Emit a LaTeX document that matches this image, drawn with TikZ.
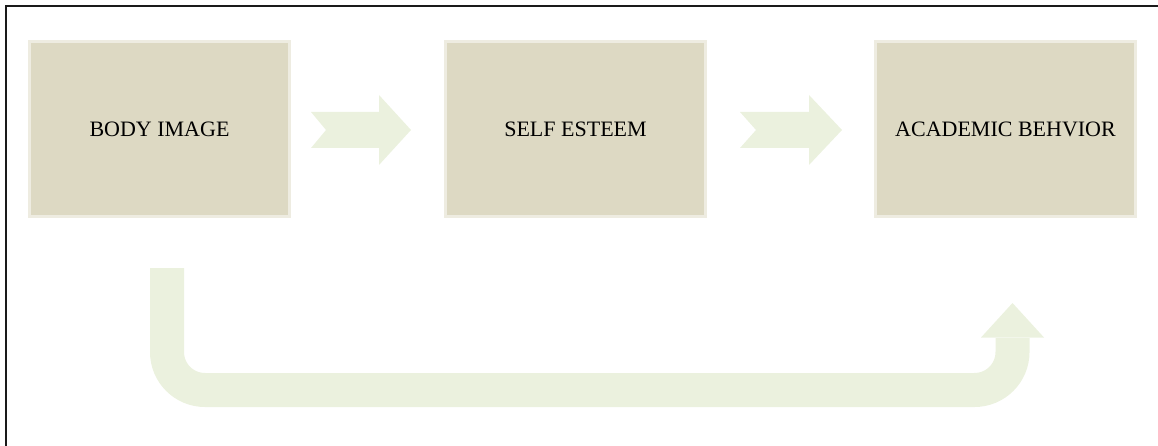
\documentclass[tikz,border=0pt]{standalone}
\usepackage{fontspec}
\setmainfont{Liberation Serif}
\definecolor{boxfill}{HTML}{DDD9C3}
\definecolor{boxedge}{HTML}{EEECE1}
\definecolor{flowfill}{HTML}{EBF1DE}
\definecolor{framecol}{HTML}{1A1A1A}
\begin{document}
\begin{tikzpicture}[x=1pt,y=-1pt,
        stage/.style={rectangle,draw=boxedge,fill=boxfill,line width=3pt,
            minimum width=260pt,minimum height=175pt,inner sep=0pt,
            font=\fontsize{22}{26}\selectfont,text=black},
        flow/.style={fill=flowfill,draw=none},
        loopline/.style={draw=flowfill,line width=34pt,rounded corners=38pt}]
        \useasboundingbox (0,0) rectangle (1158,446);
        % Frame
        \draw[framecol,line width=1.5pt] (1158,6) -- (6,6) -- (6,446);
        % Stages
        \node[stage] (body) at (159.5,129.5) {BODY IMAGE};
        \node[stage] (esteem) at (575.5,129.5) {SELF ESTEEM};
        \node[stage] (behav) at (1005.5,129.5) {ACADEMIC BEHVIOR};
        % Block arrows
        \begin{scope}[shift={(311,130)}]
            \fill[flow] (0,-18) -- (68,-18) -- (68,-35) -- (100,0) -- (68,35) -- (68,18) -- (0,18) -- (15,0) -- cycle;
        \end{scope}
        \begin{scope}[shift={(740,130)}]
            \fill[flow] (0,-18) -- (69,-18) -- (69,-35) -- (102,0) -- (69,35) -- (69,18) -- (0,18) -- (16,0) -- cycle;
        \end{scope}
        % Return arrow
        \coordinate (loop start) at (167,268);
        \coordinate (loop end) at (1012.5,338);
        \draw[loopline] (loop start) -- (167,390) -- (1012.5,390) -- (loop end);
        \fill[flow] (981,337.5) -- (1044,337.5) -- (1012.5,303) -- cycle;
    \end{tikzpicture}
\end{document}
